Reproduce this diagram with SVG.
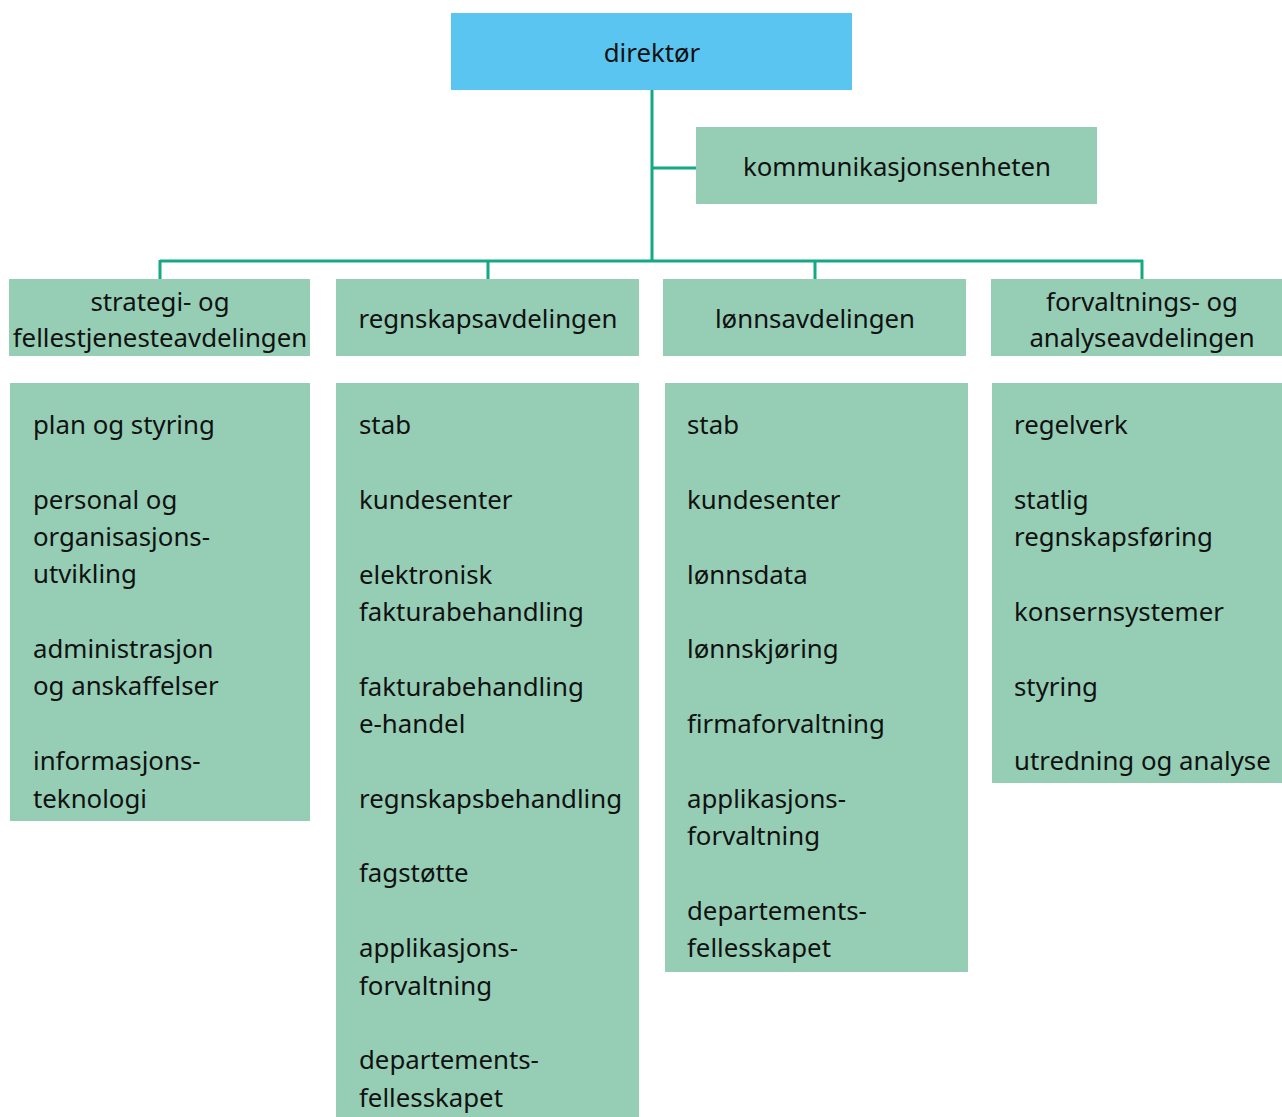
<svg xmlns="http://www.w3.org/2000/svg" width="1282" height="1117" viewBox="0 0 1282 1117">
<style>
text{font-family:"Noto Sans","Lato","Liberation Sans",sans-serif;font-size:25.8px;fill:#111;}
.c{text-anchor:middle;}
.blue{fill:#5bc5f2;}
.green{fill:#95ceb5;}
.conn{stroke:#14a982;stroke-width:3;fill:none;}
</style>
<rect width="1282" height="1117" fill="#fff"/>
<g id="connectors">
<path class="conn" d="M652 90V261M652 168H696M160 261H1143M160 260V279M488 260V279M815 260V279M1142 260V279"/>
</g>
<g id="direktor"><rect class="blue" x="451" y="13" width="401" height="77"/><text class="c" x="652" y="62">direktør</text></g>
<g id="kommunikasjon"><rect class="green" x="696" y="127" width="401" height="77"/><text class="c" x="897" y="176">kommunikasjonsenheten</text></g>
<g id="dept1"><rect class="green" x="9" y="279" width="301" height="77"/><text class="c" x="160" y="311">strategi- og</text><text class="c" x="160" y="347">fellestjenesteavdelingen</text></g>
<g id="dept2"><rect class="green" x="336" y="279" width="303" height="77"/><text class="c" x="488" y="328">regnskapsavdelingen</text></g>
<g id="dept3"><rect class="green" x="663" y="279" width="303" height="77"/><text class="c" x="815" y="328">lønnsavdelingen</text></g>
<g id="dept4"><rect class="green" x="991" y="279" width="291" height="77"/><text class="c" x="1142" y="311">forvaltnings- og</text><text class="c" x="1142" y="347">analyseavdelingen</text></g>
<g id="units1"><rect class="green" x="10" y="383" width="300" height="438"/>
<text x="33" y="434">plan og styring</text>
<text x="33" y="509">personal og</text><text x="33" y="546">organisasjons-</text><text x="33" y="583">utvikling</text>
<text x="33" y="658">administrasjon</text><text x="33" y="695">og anskaffelser</text>
<text x="33" y="770">informasjons-</text><text x="33" y="808">teknologi</text>
</g>
<g id="units2"><rect class="green" x="336" y="383" width="303" height="734"/>
<text x="359" y="434">stab</text>
<text x="359" y="509">kundesenter</text>
<text x="359" y="584">elektronisk</text><text x="359" y="621">fakturabehandling</text>
<text x="359" y="696">fakturabehandling</text><text x="359" y="733">e-handel</text>
<text x="359" y="808">regnskapsbehandling</text>
<text x="359" y="882">fagstøtte</text>
<text x="359" y="957">applikasjons-</text><text x="359" y="995">forvaltning</text>
<text x="359" y="1069">departements-</text><text x="359" y="1107">fellesskapet</text>
</g>
<g id="units3"><rect class="green" x="665" y="383" width="303" height="589"/>
<text x="687" y="434">stab</text>
<text x="687" y="509">kundesenter</text>
<text x="687" y="584">lønnsdata</text>
<text x="687" y="658">lønnskjøring</text>
<text x="687" y="733">firmaforvaltning</text>
<text x="687" y="808">applikasjons-</text><text x="687" y="845">forvaltning</text>
<text x="687" y="920">departements-</text><text x="687" y="957">fellesskapet</text>
</g>
<g id="units4"><rect class="green" x="992" y="383" width="290" height="400"/>
<text x="1014" y="434">regelverk</text>
<text x="1014" y="509">statlig</text><text x="1014" y="546">regnskapsføring</text>
<text x="1014" y="621">konsernsystemer</text>
<text x="1014" y="696">styring</text>
<text x="1014" y="770">utredning og analyse</text>
</g>
</svg>
